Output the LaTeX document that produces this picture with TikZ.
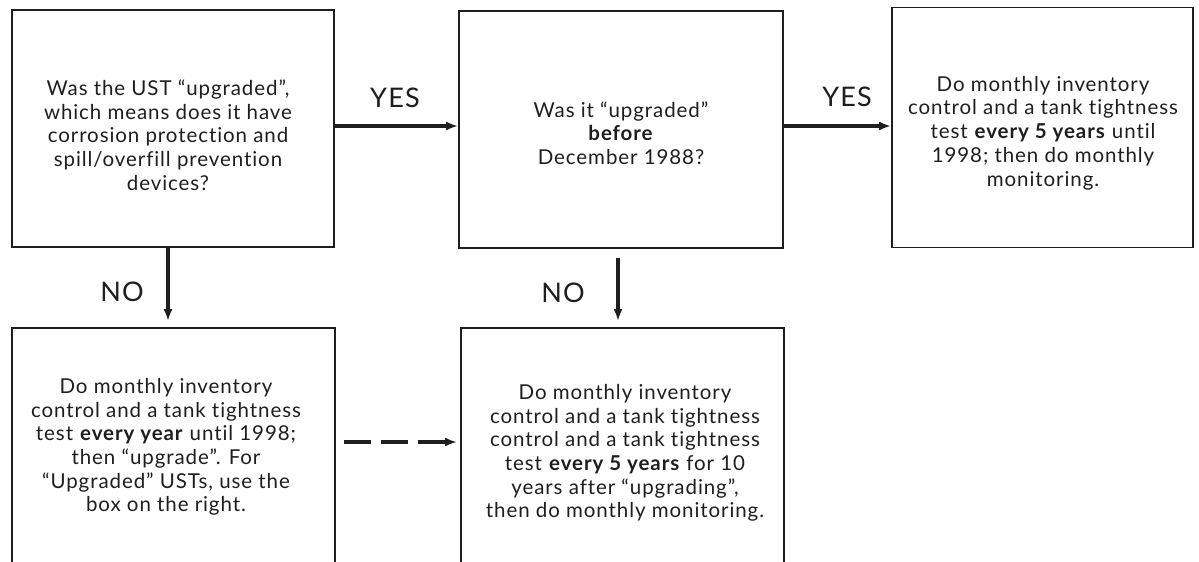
\documentclass[tikz,border=0pt]{standalone}
\usepackage{fontspec}
\setmainfont{Lato}[LetterSpace=4.5,Ligatures=NoCommon]
\usetikzlibrary{arrows.meta}
\definecolor{ink}{HTML}{1E1E1E}
\begin{document}
\begin{tikzpicture}[x=1pt,y=-1pt,
  box/.style={draw=ink, line width=1.8pt, rectangle, inner sep=0pt},
  txt/.style={align=center, text=ink, font=\fontsize{20.5}{23.7}\selectfont},
  lbl/.style={text=ink, font=\fontsize{27}{30}\selectfont},
  arr/.style={draw=ink, line width=3.4pt, -{Latex[length=12pt,width=9pt]}},
  darr/.style={arr, dash pattern=on 27pt off 10pt}]
\useasboundingbox (0,0) rectangle (1199,562);
\clip (0,0) rectangle (1199,562);
% boxes
\node[box, minimum width=322pt, minimum height=237pt] (a) at (173,128.5) {};
\node[box, minimum width=324pt, minimum height=237pt] (b) at (621,129.5) {};
\node[box, minimum width=301pt, minimum height=240pt] (c) at (1042.5,127.5) {};
\node[box, minimum width=323pt, minimum height=250pt] (d) at (173.5,453) {};
\node[box, minimum width=323pt, minimum height=250pt] (e) at (622.5,453) {};
% texts
\node[txt] (ta) at (168,135) {Was the UST “upgraded”,\\which means does it have\\corrosion protection and\\spill/overfill prevention\\devices?};
\node[txt] (tb) at (621,133) {Was it “upgraded”\\\textbf{before}\\December 1988?};
\node[txt] (tc) at (1043,133) {Do monthly inventory\\control and a tank tightness\\test \textbf{every 5 years} until\\1998; then do monthly\\monitoring.};
\node[txt] (td) at (166,447) {Do monthly inventory\\control and a tank tightness\\test \textbf{every year} until 1998;\\then “upgrade”. For\\“Upgraded” USTs, use the\\box on the right.};
\node[txt] (te) at (625,453) {Do monthly inventory\\control and a tank tightness\\control and a tank tightness\\test \textbf{every 5 years} for 10\\years after “upgrading”,\\then do monthly monitoring.};
% labels
\node[lbl] (yes1) at (395,98) {YES};
\node[lbl] (yes2) at (847,97) {YES};
\node[lbl] (no1) at (122,292) {NO};
\node[lbl] (no2) at (563,293) {NO};
% connectors
\draw[arr] ([yshift=2.5pt]a.east) -- ([yshift=2.5pt]a.east -| b.west);
\draw[arr] ([yshift=3.5pt]b.east) -- ([yshift=3.5pt]b.east -| c.west);
\draw[arr] ([xshift=-5pt]a.south) -- ([xshift=-5pt,yshift=6pt]a.south |- d.north);
\draw[arr] ([xshift=-3pt,yshift=-9pt]b.south) -- ([xshift=-3pt,yshift=6pt]b.south |- e.north);
\draw[darr] ([xshift=8pt,yshift=11pt]d.east) -- ([xshift=-3pt,yshift=11pt]d.east -| e.west);
\end{tikzpicture}
\end{document}
